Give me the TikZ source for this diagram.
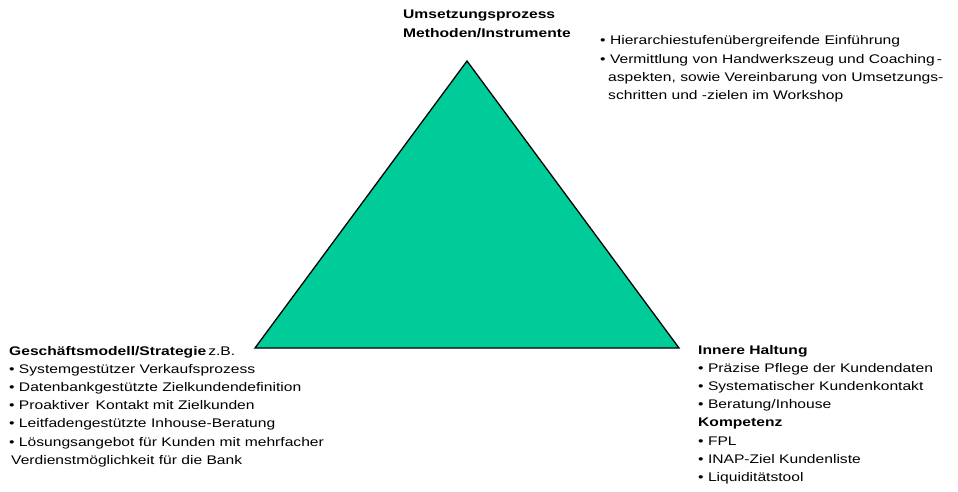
\documentclass[tikz,border=0pt]{standalone}
\usepackage{fontspec}
\setmainfont{Liberation Sans}[FakeStretch=1.25]
\definecolor{triangle}{HTML}{00CC99}
\newcommand{\txtsize}{\fontsize{12.5}{18.2}\selectfont}

\begin{document}
\begin{tikzpicture}[x=1pt,y=-1pt,line join=miter]
	% base anchor sits on the last line of each block
	\tikzstyle{block}=[anchor=base west,inner sep=0pt,align=left,font=\txtsize]
	\tikzstyle{head}=[block,font=\txtsize\bfseries]

	\useasboundingbox (0,0) rectangle (958,492);

	\coordinate (tip)     at (467,61);
	\coordinate (lcorner) at (255,348);
	\coordinate (rcorner) at (679,348);
	\draw[fill=triangle,line width=1.3pt] (tip) -- (lcorner) -- (rcorner) -- cycle;

	\node[head]  (umsetzung) at (403,37.2) {Umsetzungsprozess\\Methoden/Instrumente};
	\node[block] (methoden)  at (600,99.6) {• Hierarchiestufenübergreifende Einführung\\
		• Vermittlung von Handwerkszeug und Coaching\,-\\
		\hspace{8pt}aspekten, sowie Vereinbarung von Umsetzungs-\\
		\hspace{8pt}schritten und -zielen im Workshop};

	\node[block] (strategie) at (9,464.2) {\textbf{Geschäftsmodell/Strategie}\hspace{2pt}z.B.\\
		• Systemgestützer Verkaufsprozess\\
		• Datenbankgestützte Zielkundendefinition\\
		• Proaktiver\hspace{2pt} Kontakt mit Zielkunden\\
		• Leitfadengestützte Inhouse-Beratung\\
		• Lösungsangebot für Kunden mit mehrfacher\\
		\hspace{2pt}Verdienstmöglichkeit für die Bank};

	\node[block] (haltung) at (698,481.4) {\textbf{Innere Haltung}\\
		• Präzise Pflege der Kundendaten\\
		• Systematischer Kundenkontakt\\
		• Beratung/Inhouse\\
		\textbf{Kompetenz}\\
		• FPL\\
		• INAP-Ziel Kundenliste\\
		• Liquiditätstool};
\end{tikzpicture}
\end{document}
